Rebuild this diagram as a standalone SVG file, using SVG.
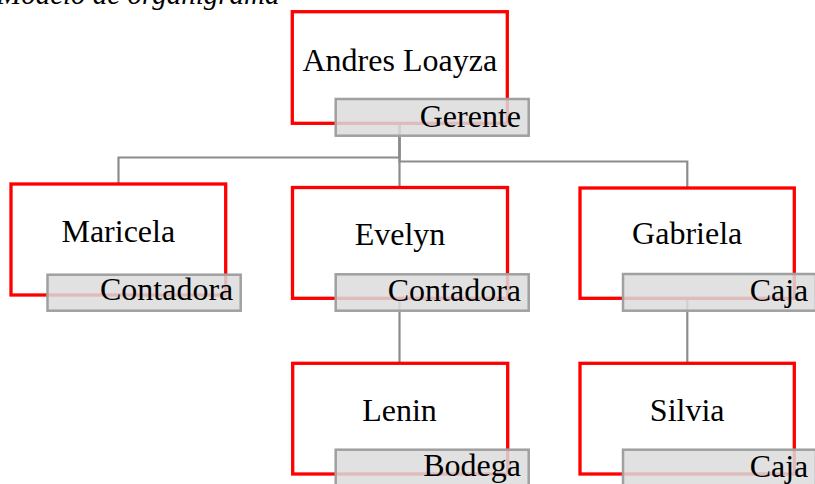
<svg xmlns="http://www.w3.org/2000/svg" width="815" height="484" viewBox="0 0 815 484">
<style>
.card{fill:none;stroke:#ff0000;stroke-width:3.3}
.tag{fill:#dcdcdc;fill-opacity:0.85;stroke:#a0a0a0;stroke-width:2.5}
.name{font-family:"Liberation Serif","Times New Roman",serif;font-size:32px;fill:#000;text-anchor:middle}
.role{font-family:"Liberation Serif","Times New Roman",serif;font-size:32px;fill:#000;text-anchor:end}
.title{font-family:"Liberation Serif","Times New Roman",serif;font-size:29px;font-style:italic;fill:#000}
.conn{fill:none;stroke:#8c8c8c;stroke-width:2.2}
</style>
<rect width="815" height="484" fill="#fff"/>
<text class="title" x="-3" y="3.5">Modelo de organigrama</text>
<g id="connectors">
<path class="conn" d="M399.5 123 V157.5 H118.5 V184"/>
<path class="conn" d="M399.5 123 V187.5"/>
<path class="conn" d="M399.5 123 V161.5 H687.3 V188"/>
<path class="conn" d="M399.5 298 V363.5"/>
<path class="conn" d="M687.3 298 V363.5"/>
</g>
<g id="andres">
<rect class="card" x="292.3" y="11.7" width="215" height="111.6"/>
<text class="name" x="399.8" y="71">Andres Loayza</text>
<rect class="tag" x="335.7" y="99" width="193" height="36.7"/>
<text class="role" x="521" y="126.7">Gerente</text>
</g>
<g id="maricela">
<rect class="card" x="11" y="184" width="214.7" height="111"/>
<text class="name" x="118.3" y="241.7">Maricela</text>
<rect class="tag" x="47.5" y="274.7" width="193.2" height="36"/>
<text class="role" x="233.3" y="300">Contadora</text>
</g>
<g id="evelyn">
<rect class="card" x="292.5" y="187.5" width="215" height="110.8"/>
<text class="name" x="400" y="245">Evelyn</text>
<rect class="tag" x="335.7" y="274.3" width="193" height="36.4"/>
<text class="role" x="521" y="300.5">Contadora</text>
</g>
<g id="gabriela">
<rect class="card" x="580" y="188" width="214.3" height="110.3"/>
<text class="name" x="687.2" y="244">Gabriela</text>
<rect class="tag" x="623" y="274" width="193" height="36.7"/>
<text class="role" x="808.3" y="300.7">Caja</text>
</g>
<g id="lenin">
<rect class="card" x="292.7" y="363.3" width="215" height="110.7"/>
<text class="name" x="399.5" y="420.7">Lenin</text>
<rect class="tag" x="335.7" y="449.7" width="193" height="36.7"/>
<text class="role" x="521" y="476">Bodega</text>
</g>
<g id="silvia">
<rect class="card" x="580" y="363.3" width="214.3" height="110.7"/>
<text class="name" x="687.2" y="420.7">Silvia</text>
<rect class="tag" x="623" y="449.7" width="193" height="36.7"/>
<text class="role" x="808.3" y="476.7">Caja</text>
</g>
</svg>
